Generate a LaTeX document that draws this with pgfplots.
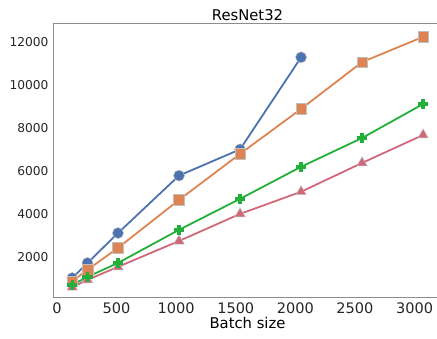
\documentclass[border=0pt]{standalone}
\usepackage{fontspec}
\setmainfont{DejaVu Sans}
\usepackage{pgfplots}
\pgfplotsset{compat=1.18}
\definecolor{sblue}{HTML}{4C72B0}
\definecolor{sorange}{HTML}{DD8452}
\definecolor{sgreen}{HTML}{22B03A}
\definecolor{spink}{HTML}{D0687A}
\definecolor{spine}{HTML}{8C8C8C}
\begin{document}
\begin{tikzpicture}
\begin{axis}[
  scale only axis,
  width=387pt, height=274pt,
  xmin=-25, xmax=3222, ymin=90, ymax=12830,
  scaled ticks=false,
  xtick={0,500,1000,1500,2000,2500,3000},
  ytick={2000,4000,6000,8000,10000,12000},
  /pgf/number format/assume math mode=true,
  /pgf/number format/1000 sep={},
  tick style={draw=none},
  xticklabel style={font=\fontsize{14.5}{16}\selectfont, text=black!85, yshift=-1pt},
  yticklabel style={font=\fontsize{12.2}{14}\selectfont, text=black!85, xshift=-2pt},
  axis line style={draw=spine, line width=1pt},
  title={ResNet32},
  title style={font=\fontsize{14.8}{16}\selectfont, yshift=-6pt},
  xlabel={Batch size},
  xlabel style={font=\fontsize{14.8}{16}\selectfont, yshift=3pt},
  every axis plot/.append style={line width=1.8pt},
]
\addplot[color=sblue, mark=*, mark size=5.5pt, mark options={draw=black!25, line width=0.5pt, fill=sblue}]
coordinates {(128,1020) (256,1720) (512,3110) (1024,5780) (1536,7000) (2048,11280)};
\addplot[color=sorange, mark=square*, mark size=5.3pt, mark options={draw=black!25, line width=0.5pt, fill=sorange}]
coordinates {(128,870) (256,1400) (512,2420) (1024,4650) (1536,6790) (2048,8880) (2560,11060) (3072,12230)};
\addplot[color=spink, mark=triangle*, mark size=6pt, mark options={draw=black!25, line width=0.5pt, fill=spink}]
coordinates {(128,600) (256,930) (512,1540) (1024,2740) (1536,4000) (2048,5030) (2560,6370) (3072,7670)};
\addplot[color=sgreen, mark=+, mark size=5.2pt, mark options={line width=3.4pt}]
coordinates {(128,700) (256,1070) (512,1720) (1024,3260) (1536,4700) (2048,6190) (2560,7530) (3072,9110)};
\end{axis}
\pgfresetboundingbox
\path[use as bounding box] ([xshift=-54pt,yshift=-41pt]current axis.south west) rectangle ++(437pt,339pt);
\end{tikzpicture}
\end{document}
